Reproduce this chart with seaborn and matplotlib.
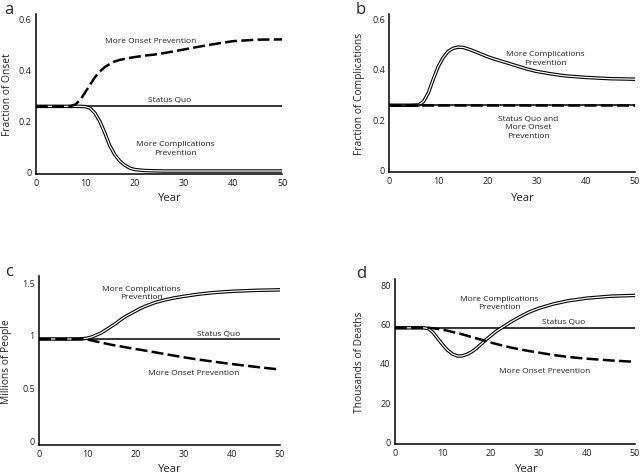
import matplotlib
matplotlib.use("Agg")
import matplotlib.pyplot as plt
import seaborn as sns

# shared time axis (years)
years = [0, 2, 4, 6, 7, 8, 9, 10, 11, 12, 13, 14, 15, 16, 17, 18, 19, 20,
         21, 22, 24, 26, 28, 30, 33, 36, 40, 45, 50]

# panel a: fraction of onset
a_status = [0.255] * len(years)
a_onset = [0.255, 0.255, 0.255, 0.255, 0.256, 0.262, 0.28, 0.31, 0.34, 0.37,
           0.392, 0.41, 0.422, 0.432, 0.438, 0.442, 0.446, 0.449, 0.452, 0.455,
           0.459, 0.465, 0.472, 0.479, 0.49, 0.50, 0.512, 0.518, 0.519]
a_compl = [0.255, 0.255, 0.255, 0.255, 0.255, 0.255, 0.255, 0.254, 0.248, 0.228,
           0.195, 0.15, 0.10, 0.065, 0.04, 0.024, 0.012, 0.006, 0.004, 0.002,
           0.001, 0.0, 0.0, 0.0, 0.0, 0.0, 0.0, 0.0, 0.0]

# panel b: fraction of complications
b_status = [0.255] * len(years)
b_onset = [0.255] * len(years)
b_compl = [0.255, 0.255, 0.255, 0.256, 0.27, 0.305, 0.36, 0.41, 0.445, 0.47,
           0.482, 0.487, 0.486, 0.48, 0.473, 0.465, 0.457, 0.449, 0.442, 0.436,
           0.424, 0.412, 0.40, 0.39, 0.38, 0.372, 0.366, 0.361, 0.359]

# panel c: millions of people
c_status = [0.96] * len(years)
c_compl = [0.96, 0.96, 0.96, 0.96, 0.96, 0.96, 0.962, 0.968, 0.98, 1.0,
           1.02, 1.05, 1.08, 1.11, 1.145, 1.175, 1.2, 1.225, 1.25, 1.27,
           1.305, 1.33, 1.35, 1.365, 1.385, 1.40, 1.413, 1.422, 1.427]
c_onset = [0.96, 0.96, 0.96, 0.96, 0.96, 0.96, 0.96, 0.955, 0.945, 0.935,
           0.925, 0.915, 0.905, 0.897, 0.889, 0.881, 0.873, 0.865, 0.858, 0.85,
           0.834, 0.818, 0.802, 0.786, 0.765, 0.746, 0.722, 0.695, 0.67]

# panel d: thousands of deaths
d_status = [58] * len(years)
d_compl = [58, 58, 58, 58, 57.6, 55.5, 52.3, 49.2, 46.5, 44.6,
           43.6, 43.6, 44.4, 45.7, 47.5, 49.7, 52, 54, 56, 57.6,
           60.8, 63.6, 66.1, 68, 70.2, 71.8, 73.2, 74.2, 74.6]
d_onset = [58, 58, 58, 58, 58, 57.8, 57.4, 57, 56.5, 55.9,
           55.3, 54.7, 54.0, 53.3, 52.6, 51.9, 51.2, 50.5, 49.8, 49.2,
           48.0, 47.0, 46.1, 45.3, 44.1, 43.1, 42.2, 41.3, 40.6]

x_ticks = [0, 10, 20, 30, 40, 50]

sns.set_theme(style="white")
plt.rcParams['font.family'] = ['Open Sans', 'DejaVu Sans']

fig = plt.figure(figsize=(6.4, 4.77), dpi=100)


def double_line(ax, y):
    sns.lineplot(x=years, y=y, ax=ax, color="black", lw=2.5)
    sns.lineplot(x=years, y=y, ax=ax, color="white", lw=0.9)


def dashed_line(ax, y):
    sns.lineplot(x=years, y=y, ax=ax, color="black", lw=1.8,
                 linestyle=(0, (4.8, 1.7)))


def solid_line(ax, y):
    sns.lineplot(x=years, y=y, ax=ax, color="black", lw=1.1)


def style_axes(ax, ylim, yticks, yticklabels, ylabel, ylab_x, xlab_xy, letter, letter_xy):
    ax.set_xlim(0, 50)
    ax.set_ylim(*ylim)
    ax.set_xticks(x_ticks)
    ax.set_xticklabels([str(t) for t in x_ticks])
    ax.set_yticks(yticks)
    ax.set_yticklabels(yticklabels)
    ax.tick_params(length=0, labelsize=6.5, pad=3, colors="#222222")
    sns.despine(ax=ax)
    for s in ("left", "bottom"):
        ax.spines[s].set_color("black")
        ax.spines[s].set_linewidth(1.1)
    ax.set_ylabel(ylabel, fontsize=7.4)
    ax.yaxis.set_label_coords(ylab_x, 0.5)
    ax.yaxis.label.set_va("center")
    ax.set_xlabel("Year", fontsize=8.2)
    ax.xaxis.set_label_coords(*xlab_xy)
    ax.xaxis.label.set_va("center")
    fig.text(letter_xy[0], letter_xy[1], letter, fontsize=12, ha="left", va="center")


txt = dict(fontsize=6.0, ha="center", va="center", color="#222222")

# a
ax_a = fig.add_axes([0.056, 0.633, 0.385, 0.336])
solid_line(ax_a, a_status)
double_line(ax_a, a_compl)
dashed_line(ax_a, a_onset)
style_axes(ax_a, (-0.012, 0.62), [0, 0.2, 0.4, 0.6], ["0", "0.2", "0.4", "0.6"],
           "Fraction of Onset", -0.116, (0.545, -0.144), "a", (0.006, 0.979))
ax_a.text(23.2, 0.515, "More Onset Prevention", **txt)
ax_a.text(27.2, 0.282, "Status Quo", **txt)
ax_a.text(28.4, 0.091, "More Complications\nPrevention", linespacing=1.3, **txt)

# b
ax_b = fig.add_axes([0.608, 0.637, 0.384, 0.332])
double_line(ax_b, b_compl)
solid_line(ax_b, b_status)
dashed_line(ax_b, b_onset)
style_axes(ax_b, (-0.012, 0.62), [0, 0.2, 0.4, 0.6], ["0", "0.2", "0.4", "0.6"],
           "Fraction of Complications", -0.122, (0.546, -0.158), "b", (0.555, 0.980))
ax_b.text(31.8, 0.444, "More Complications\nPrevention", linespacing=1.3, **txt)
ax_b.text(28.3, 0.169, "Status Quo and\nMore Onset\nPrevention", linespacing=1.3, **txt)

# c
ax_c = fig.add_axes([0.061, 0.065, 0.3765, 0.354])
solid_line(ax_c, c_status)
double_line(ax_c, c_compl)
dashed_line(ax_c, c_onset)
style_axes(ax_c, (-0.047, 1.557), [0, 0.5, 1, 1.5], ["0", "0.5", "1", "1.5"],
           "Millions of People", -0.136, (0.544, -0.142), "c", (0.008, 0.430))
ax_c.text(21.3, 1.40, "More Complications\nPrevention", linespacing=1.3, **txt)
ax_c.text(37.3, 1.016, "Status Quo", **txt)
ax_c.text(32.0, 0.64, "More Onset Prevention", **txt)

# d
ax_d = fig.add_axes([0.617, 0.067, 0.375, 0.346])
solid_line(ax_d, d_status)
double_line(ax_d, d_compl)
dashed_line(ax_d, d_onset)
style_axes(ax_d, (-1.5, 83), [0, 20, 40, 60, 80], ["0", "20", "40", "60", "80"],
           "Thousands of Deaths", -0.149, (0.549, -0.147), "d", (0.557, 0.426))
ax_d.text(21.7, 70.9, "More Complications\nPrevention", linespacing=1.3, **txt)
ax_d.text(35.1, 61.2, "Status Quo", **txt)
ax_d.text(31.1, 35.9, "More Onset Prevention", **txt)

fig.savefig("out.png", dpi=100)
plt.close(fig)
